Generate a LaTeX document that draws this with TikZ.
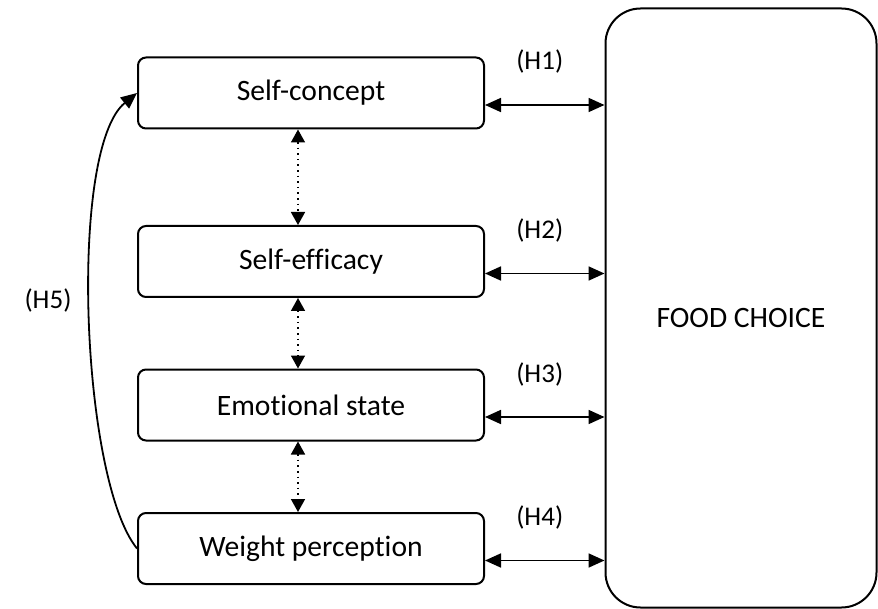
\documentclass[tikz,border=0pt]{standalone}
\usepackage{fontspec}
\setmainfont{Carlito}[Ligatures=NoCommon]
\usetikzlibrary{arrows.meta}

\begin{document}
\begin{tikzpicture}[x=0.5pt, y=-0.5pt,
    box/.style={draw, line width=1pt, rounded corners=4pt, minimum width=173pt,
      minimum height=35.5pt, inner sep=0pt, font=\fontsize{14.8}{18}\selectfont},
    bigbox/.style={draw, line width=1pt, rounded corners=17.5pt, minimum width=135.5pt,
      minimum height=299.5pt, inner sep=0pt},
    bigtext/.style={font=\fontsize{14.8}{18}\selectfont},
    hlabel/.style={font=\fontsize{13.5}{16}\selectfont},
    harrow/.style={line width=0.9pt, {Triangle[length=8pt,width=7pt]}-{Triangle[length=8pt,width=7pt]}},
    varrow/.style={line width=0.8pt, dotted, {Triangle[length=6.5pt,width=7pt]}-{Triangle[length=6.5pt,width=7pt]}},
    carrow/.style={line width=0.9pt, -{Triangle[length=8pt,width=7pt]}}]
    \useasboundingbox (0, 0) rectangle (878, 609);

    % boxes
    \node[box] (b1) at (311, 93) {Self-concept};
    \node[box] (b2) at (311, 261.5) {Self-efficacy};
    \node[box] (b3) at (311, 405) {Emotional state};
    \node[box] (b4) at (311, 548.5) {Weight perception};

    % food choice
    \node[bigbox] (food) at (741, 308) {};
    \node[bigtext] (foodtxt) at ([yshift=-5pt]food.center) {FOOD CHOICE};

    % links between the boxes
    \draw[varrow] ([xshift=-6.5pt]b1.south) -- ([xshift=-6.5pt]b2.north);
    \draw[varrow] ([xshift=-6.5pt]b2.south) -- ([xshift=-6.5pt]b3.north);
    \draw[varrow] ([xshift=-6.5pt]b3.south) -- ([xshift=-6.5pt]b4.north);

    % hypotheses H1 to H4
    \draw[harrow] ([yshift=-6pt]b1.east) --
      node[hlabel, xshift=-2.5pt, yshift=21.5pt] (h1) {(H1)}
      ([yshift=-6pt]b1.east -| food.west);
    \draw[harrow] ([yshift=-6pt]b2.east) --
      node[hlabel, xshift=-2.5pt, yshift=21.5pt] (h2) {(H2)}
      ([yshift=-6pt]b2.east -| food.west);
    \draw[harrow] ([yshift=-6pt]b3.east) --
      node[hlabel, xshift=-2.5pt, yshift=21.5pt] (h3) {(H3)}
      ([yshift=-6pt]b3.east -| food.west);
    \draw[harrow] ([yshift=-6pt]b4.east) --
      node[hlabel, xshift=-2.5pt, yshift=21.5pt] (h4) {(H4)}
      ([yshift=-6pt]b4.east -| food.west);

    % hypothesis H5
    \draw[carrow] (b4.west) .. controls +(-56, -69) and +(-69, 56) .. (b1.west);
    \node[hlabel] (h5) at (48, 300) {(H5)};
  \end{tikzpicture}
\end{document}
